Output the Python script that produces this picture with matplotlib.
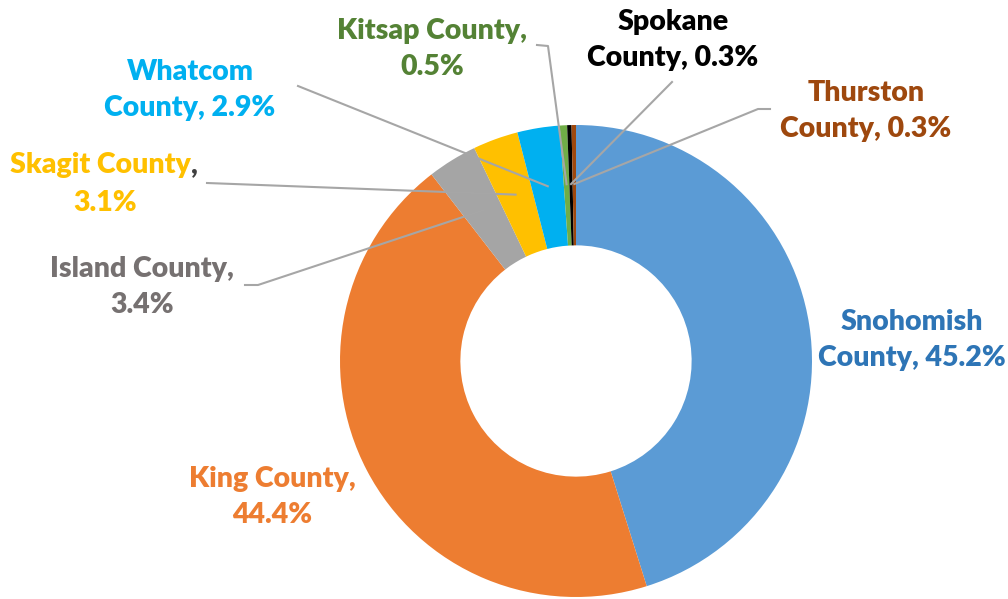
import matplotlib
matplotlib.use("Agg")
import matplotlib.pyplot as plt
import numpy as np

counties = ["Snohomish County", "King County", "Island County", "Skagit County",
            "Whatcom County", "Kitsap County", "Spokane County", "Thurston County"]
shares = [45.2, 44.4, 3.4, 3.1, 2.9, 0.5, 0.3, 0.3]
slice_colors = ["#5B9BD5", "#ED7D31", "#A5A5A5", "#FFC000",
                "#00B0F0", "#70AD47", "#000000", "#9E480E"]
label_colors = ["#2E75B6", "#ED7D31", "#767171", "#FFC000",
                "#00B0F0", "#548235", "#000000", "#9E480E"]
label_text = ["Snohomish\nCounty, 45.2%", "King County,\n44.4%", "Island County,\n3.4%",
              "Skagit County,\n3.1%", "Whatcom\nCounty, 2.9%", "Kitsap County,\n0.5%",
              "Spokane\nCounty, 0.3%", "Thurston\nCounty, 0.3%"]

W, H = 1008, 599
fig = plt.figure(figsize=(W / 100, H / 100), dpi=100)
cx, cy, R = 576, 361, 236
ax = fig.add_axes([(cx - R) / W, (H - cy - R) / H, 2 * R / W, 2 * R / H])

wedges, _ = ax.pie(shares, colors=slice_colors, startangle=90, counterclock=False,
                   radius=1.0, wedgeprops=dict(width=0.51, edgecolor="none"))
ax.set_xlim(-1, 1)
ax.set_ylim(-1, 1)
ax.set_aspect("equal")
ax.axis("off")

def px(x, y):
    return ((x - cx) / R, (cy - y) / R)

# label centers (pixel layout) and leader-line start/elbow points
label_pos = [px(912, 340), px(272, 497), px(142, 287), None,
             px(190, 90), px(432, 49), px(673, 40), px(866, 111)]
leaders = {
    2: [px(245, 285), px(258, 285)],
    3: [px(207, 183)],
    4: [px(298, 86)],
    5: [px(537, 45), px(548, 46)],
    6: [px(672, 82)],
    7: [px(770, 109), px(758, 109)],
}

total = sum(shares)
cum = np.cumsum([0] + shares[:-1])
for i, w in enumerate(wedges):
    if i in leaders:
        mid = (cum[i] + shares[i] / 2) / total * 360.0
        ang = np.deg2rad(90 - mid)
        r = 0.75
        end = (r * np.cos(ang), r * np.sin(ang))
        pts = leaders[i] + [end]
        xs = [p[0] for p in pts]
        ys = [p[1] for p in pts]
        ax.plot(xs, ys, color="#A6A6A6", lw=1.5, clip_on=False, zorder=3)

fs = 20.5
font = dict(family=["Lato", "DejaVu Sans"], weight="heavy", fontsize=fs)
for i, txt in enumerate(label_text):
    if i == 3:
        continue
    x, y = label_pos[i]
    ax.text(x, y, txt, ha="center", va="center", color=label_colors[i],
            linespacing=1.45, clip_on=False, **font)

# Skagit label: dark comma as in the original
x1, y1 = px(191, 165)
ax.text(x1, y1, "Skagit County", ha="right", va="center", color=label_colors[3],
        clip_on=False, **font)
ax.text(x1, y1, ",", ha="left", va="center", color="#404040", clip_on=False, **font)
x2, y2 = px(105, 203)
ax.text(x2, y2, "3.1%", ha="center", va="center", color=label_colors[3],
        clip_on=False, **font)

fig.savefig("out.png", dpi=100, facecolor="white")
